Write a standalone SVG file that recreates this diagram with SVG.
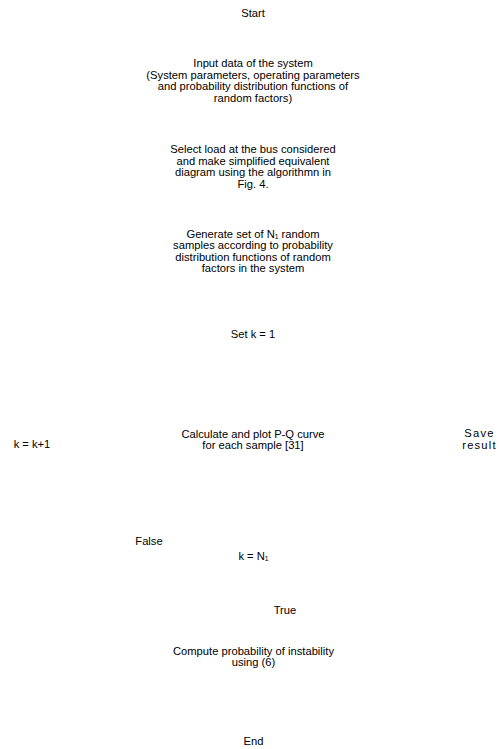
<svg xmlns="http://www.w3.org/2000/svg" width="502" height="749" viewBox="0 0 502 749">
<style>
text { font-family: "Liberation Sans", "DejaVu Sans", Arial, sans-serif; font-size: 11.2px; fill: #000; text-anchor: middle; }
.sp { letter-spacing: 1.2px; }
</style>
<rect width="502" height="749" fill="#fff"/>
<g id="connectors"></g>
<g id="start"><text x="253" y="17.3">Start</text></g>
<g id="input">
<text x="253" y="67">Input data of the system<tspan x="253" dy="11.5">(System parameters, operating parameters</tspan><tspan x="253" dy="11.5">and probability distribution functions of</tspan><tspan x="253" dy="11.5">random factors)</tspan></text>
</g>
<g id="select">
<text x="253" y="153">Select load at the bus considered<tspan x="253" dy="11.5">and make simplified equivalent</tspan><tspan x="253" dy="11.5">diagram using the algorithmn in</tspan><tspan x="253" dy="11.5">Fig. 4.</tspan></text>
</g>
<g id="generate">
<text x="253" y="237.7">Generate set of N₁ random<tspan x="253" dy="11.5">samples according to probability</tspan><tspan x="253" dy="11.5">distribution functions of random</tspan><tspan x="253" dy="11.5">factors in the system</tspan></text>
</g>
<g id="setk"><text x="253" y="337.8">Set k = 1</text></g>
<g id="calc">
<text x="253" y="437.8">Calculate and plot P-Q curve<tspan x="253" dy="11.6">for each sample [31]</tspan></text>
</g>
<g id="incr"><text x="32" y="447.8">k = k+1</text></g>
<g id="save">
<text class="sp" x="479.5" y="437.3">Save<tspan x="479.5" dy="12">result</tspan></text>
</g>
<g id="decision">
<text x="253.5" y="559.8">k = N₁</text>
</g>
<g id="lblFalse"><text x="149" y="544.5">False</text></g>
<g id="lblTrue"><text x="285" y="613.8">True</text></g>
<g id="compute">
<text x="253.5" y="654.5">Compute probability of instability<tspan x="253.5" dy="11.8">using (6)</tspan></text>
</g>
<g id="end"><text x="253.5" y="744.8">End</text></g>
</svg>
